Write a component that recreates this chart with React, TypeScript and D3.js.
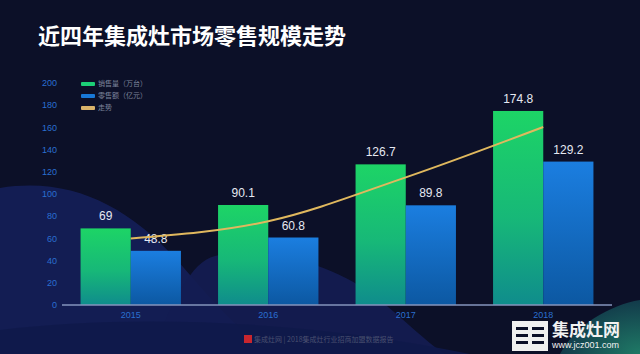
import React from 'react';
import * as d3 from 'd3';

const years = ['2015', '2016', '2017', '2018'];
const salesVolume = [69, 90.1, 126.7, 174.8];
const retailValue = [48.8, 60.8, 89.8, 129.2];
const trend = [60, 75.5, 115, 160.4];
const yTicks = [0, 20, 40, 60, 80, 100, 120, 140, 160, 180, 200];
const legendLabels = ['销售量（万台）', '零售额（亿元）', '走势'];

const W = 640;
const H = 354;

export default function App() {
  const x0 = d3.scaleBand<string>().domain(years).range([62, 612]).paddingInner(0.27).paddingOuter(0.135);
  const x1 = d3.scaleBand<number>().domain([0, 1]).range([0, x0.bandwidth()]);
  const y = d3.scaleLinear().domain([0, 200]).range([305, 83]);

  const line = d3.line<number>()
    .x((_, i) => x0(years[i])! + x0.bandwidth() / 2)
    .y(v => y(v))
    .curve(d3.curveMonotoneX);

  const series = [salesVolume, retailValue];
  const fills = ['url(#gGreen)', 'url(#gBlue)'];
  const legendColors = ['#1ccf77', '#1878d8', '#d9b36a'];

  return (
    <svg width={W} height={H} style={{ position: 'fixed', left: 0, top: 0, display: 'block' }}
      fontFamily="'Noto Sans CJK SC', 'Noto Sans', sans-serif">
      <defs>
        <linearGradient id="gGreen" x1="0" y1="0" x2="0" y2="1">
          <stop offset="0" stopColor="#1dd466" />
          <stop offset="0.55" stopColor="#17b878" />
          <stop offset="1" stopColor="#0f8c8c" />
        </linearGradient>
        <linearGradient id="gBlue" x1="0" y1="0" x2="0" y2="1">
          <stop offset="0" stopColor="#1b7ee0" />
          <stop offset="1" stopColor="#0c58a2" />
        </linearGradient>
        <radialGradient id="gTeal" cx="1" cy="1" r="1">
          <stop offset="0" stopColor="#1f7a66" />
          <stop offset="1" stopColor="#123a4a" />
        </radialGradient>
      </defs>

      <rect width={W} height={H} fill="#0c1028" />
      {/* background waves */}
      <path d="M0,188 C80,175 140,215 190,275 C220,310 250,340 270,354 L0,354 Z" fill="#15205a" opacity={0.85} />
      <path d="M150,354 C175,300 190,262 215,256 C260,246 330,260 380,300 C410,325 430,345 445,354 Z" fill="#141d52" opacity={0.9} />
      <path d="M0,330 C120,315 300,318 470,354 L0,354 Z" fill="#101a4a" opacity={0.9} />
      <path d="M560,354 C575,325 610,305 640,300 L640,354 Z" fill="url(#gTeal)" />

      <text x={38} y={44} fill="#ffffff" fontSize={22} fontWeight="bold">近四年集成灶市场零售规模走势</text>

      {/* y axis labels */}
      {yTicks.map(t => (
        <text key={t} x={57} y={y(t)} dy="0.35em" textAnchor="end" fill="#2a6fd0" fontSize={9}
          fontFamily="'Liberation Sans', Arial, sans-serif">{t}</text>
      ))}

      {/* bars */}
      {series.map((vals, s) => vals.map((v, i) => (
        <g key={`${s}-${i}`}>
          <rect x={x0(years[i])! + x1(s)!} y={y(v)} width={x1.bandwidth()} height={y(0) - y(v)} fill={fills[s]} />
          <text x={x0(years[i])! + x1(s)! + x1.bandwidth() / 2} y={y(v) - 8} textAnchor="middle" fill="#e6e9f2"
            fontSize={12} fontFamily="'Liberation Sans', Arial, sans-serif">{v}</text>
        </g>
      )))}

      {/* trend line */}
      <path d={line(trend) ?? ''} fill="none" stroke="#e0b85e" strokeWidth={2} />

      {/* x axis */}
      <line x1={62} x2={612} y1={y(0)} y2={y(0)} stroke="#8494bc" strokeWidth={1.5} />
      {years.map(yr => (
        <text key={yr} x={x0(yr)! + x0.bandwidth() / 2} y={318} textAnchor="middle" fill="#2a6fd0" fontSize={9}
          fontFamily="'Liberation Sans', Arial, sans-serif">{yr}</text>
      ))}

      {/* legend */}
      {legendLabels.map((l, i) => (
        <g key={l} transform={`translate(81,${84 + i * 12})`}>
          <rect x={0} y={-2} width={14} height={4} rx={1} fill={legendColors[i]} />
          <text x={17} y={0} dy="0.35em" fill="#7d849c" fontSize={7}>{l}</text>
        </g>
      ))}

      {/* footer */}
      <rect x={244} y={335} width={8} height={8} fill="#c8262e" />
      <text x={254} y={342} fill="#4a5070" fontSize={7}>集成灶网 | 2018集成灶行业招商加盟数据报告</text>

      {/* watermark */}
      <g transform="translate(512,321)">
        <rect x={0} y={0} width={36} height={30} fill="#f0f0f0" />
        <rect x={4} y={6} width={28} height={3} fill="#0c1028" />
        <rect x={4} y={13} width={28} height={3} fill="#0c1028" />
        <rect x={4} y={20} width={28} height={3} fill="#0c1028" />
        <rect x={16} y={0} width={4} height={30} fill="#f0f0f0" />
        <text x={40} y={15} fill="#f2f2f2" fontSize={17} fontWeight="bold">集成灶网</text>
        <text x={40} y={27} fill="#f2f2f2" fontSize={9} fontFamily="'Liberation Sans', Arial, sans-serif">www.jcz001.com</text>
      </g>
    </svg>
  );
}
